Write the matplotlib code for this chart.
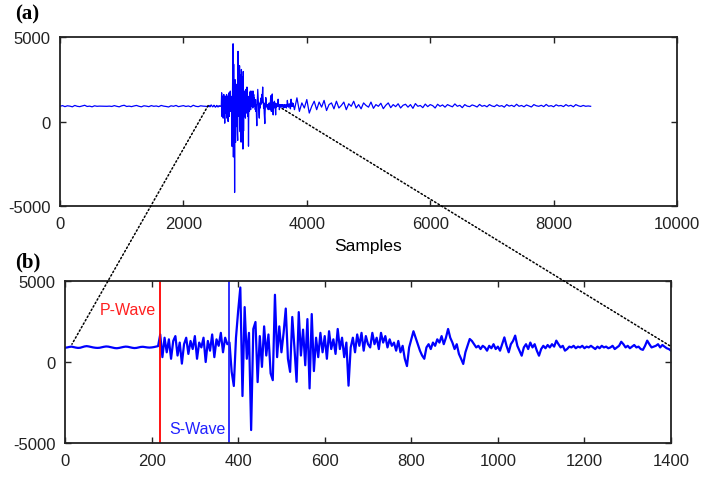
import numpy as np
import matplotlib
matplotlib.use("Agg")
from matplotlib import pyplot as plt
from matplotlib.patches import ConnectionPatch

# zoomed trace (b), one value every B_STEP samples, starting at sample 0
B_STEP = 5
b_quiet = [880, 900, 930, 950, 920, 890, 870, 880, 920, 960,
           980, 960, 930, 900, 880, 870, 880, 910, 940, 960,
           950, 920, 890, 860, 850, 870, 900, 930, 950, 940,
           910, 880, 860, 870, 900, 930, 940, 920, 900, 890,
           900, 920, 950, 980]
b_pwave = [1700, 300, 1500, 600, 1400, 200, 1300, 1600, 400, 1200,
           -100, 1100, 1500, 500, 1300, 800, 1600, 200, 1200, 900,
           1500, 0, 1300, 700, 1700, 300, 1400, 1000, 1800, 600,
           1500, 1100]
b_swave = [1200, -600, -1480, 1500, 3150, 4600, -2100, 3390, 200, 1800,
           -4200, 2040, 2470, -1240, 1600, -300, 2200, 400, 1700, -700,
           -1120, 4150, 300, 2200, 600, 1800, 3300, 200, -610, 2780,
           900, -1220, 3080, 400, 2000, -200, 2650, -1630, 2960, -560,
           1500, 300, 1800, 600, 1600, 200, 1900, 800, 1400, 500,
           2040, 800, 1500, 300, 1200, -1460, 900, 1500, 600, 1700,
           1000, 1800, 700, 1600, 1100]
b_coda = [900, 1800, 1100, 1500, 800, 1800, 1200, 1600, 900, 1400,
          1000, 1200, 700, 1300, 600, 1000, 200, -250, 900, 1400,
          1900, 1500, 1100, 700, 400, 200, 900, 1100, 800, 1200,
          1000, 1400, 1200, 1600, 1100, 1500, 2040, 1500, 1200, 800,
          1100, 500, 200, -120, 600, 1000, 1420, 1300, 1100, 900,
          1000, 800, 1000, 900, 700, 1000, 850, 1100, 800, 950,
          700, 1100, 1520, 1000, 600, 1100, 1300, 1630, 1000, 700,
          390, 900, 1100, 800, 1200, 900, 1100, 700, 390, 800,
          1000, 850, 1050, 900, 1100, 950, 1320, 1100, 900, 1000,
          700, 800, 950, 900, 1000, 850, 950, 900, 1000, 850,
          950, 900, 1000, 900, 800, 950, 850, 1000, 900, 950,
          850, 900, 1000, 800, 900, 1000, 1250, 1100, 900, 1000,
          850, 950, 1050, 900, 950, 800, 750, 1000, 1320, 1100,
          900, 950, 1000, 1100, 900, 1050, 950, 850, 800, 700]

# full trace (a): noise before and after the zoomed window, one value every A_STEP samples
A_STEP = 40
B_OFFSET = 2400
a_before = [900, 940, 880, 930, 910, 870, 950, 900, 880, 920,
            960, 890, 910, 870, 930, 900, 910, 905, 895, 900,
            910, 890, 940, 900, 870, 930, 960, 890, 910, 880,
            920, 950, 900, 870, 930, 910, 880, 940, 900, 920,
            880, 950, 910, 890, 860, 930, 900, 950, 880, 910,
            940, 890, 920, 870, 960, 900, 880, 930, 910, 900]
a_after = [1400, 600, 1100, 800, 1300, 500, 900, 1200, 700, 1150,
           850, 1250, 650, 1000, 1100, 750, 1200, 800, 950, 1150,
           700, 1050, 900, 1200, 800, 1000, 750, 1100, 950, 850,
           1150, 780, 1000, 900, 1080, 760, 960, 1100, 820, 1000,
           880, 1050, 800, 960, 1020, 850, 1000, 780, 1060, 900,
           950, 820, 1030, 880, 1000, 940, 800, 1020, 900, 980,
           850, 1000, 930, 870, 1040, 900, 960, 820, 1000, 910,
           880, 980, 930, 860, 1010, 900, 950, 870, 1000, 920,
           880, 990, 900, 940, 850, 1000, 910, 960, 880, 1020,
           900, 950, 870, 980, 920, 860, 1000, 930, 900, 960,
           880, 1010, 900, 940, 870, 990, 920, 950, 880, 1000,
           910, 960, 870, 1000, 930, 890, 950, 900, 920, 900]

p_wave = 220
s_wave = 378
# zoom connectors: (sample in a, value in a) -> (sample in b, value in b)
zoom_links = [((2400, 940), (16, 1100)), ((3600, 770), (1398, 990))]

a_xticks = [0, 2000, 4000, 6000, 8000, 10000]
b_xticks = [0, 200, 400, 600, 800, 1000, 1200, 1400]
yticks = [-5000, 0, 5000]

plt.rcParams['font.family'] = ['Liberation Sans', 'DejaVu Sans']
plt.rcParams['axes.unicode_minus'] = False

b_vals = np.array(b_quiet + b_pwave + b_swave + b_coda, dtype=float)
b_x = np.arange(len(b_vals)) * B_STEP
a_x = np.concatenate([np.arange(len(a_before)) * A_STEP,
                      b_x + B_OFFSET,
                      b_x[-1] + B_OFFSET + A_STEP + np.arange(len(a_after)) * A_STEP])
a_vals = np.concatenate([a_before, b_vals, a_after])

fig = plt.figure(figsize=(7.05, 4.81), dpi=100)
ax_a = fig.add_axes([0.0851, 0.5696, 0.8752, 0.3514])
ax_b = fig.add_axes([0.0922, 0.0769, 0.8596, 0.3368])

blue = '#0000ff'
ax_a.plot(a_x, a_vals, color=blue, lw=0.9)
ax_b.plot(b_x, b_vals, color=blue, lw=1.6)

ax_b.axvline(p_wave, color='#ff0000', lw=1.3)
ax_b.axvline(s_wave, color='#2020ff', lw=1.3)
ax_b.text(p_wave - 10, 3250, 'P-Wave', color='#ff2020', fontsize=11.5, ha='right', va='center')
ax_b.text(s_wave - 8, -4100, 'S-Wave', color='#2020ff', fontsize=11.5, ha='right', va='center')

for ax, xt, xl in [(ax_a, a_xticks, (0, 10000)), (ax_b, b_xticks, (0, 1400))]:
    ax.set_xlim(*xl)
    ax.set_ylim(-5000, 5000)
    ax.set_xticks(xt)
    ax.set_yticks(yticks)
    ax.tick_params(direction='in', top=True, right=True, length=4, width=1,
                   labelsize=12, colors='#222222', pad=7)
    for sp in ax.spines.values():
        sp.set_linewidth(1.3)
        sp.set_color('#222222')

ax_a.set_xlabel('Samples', fontsize=12.5, labelpad=5)

for (pa, pb) in zoom_links:
    con = ConnectionPatch(xyA=pa, coordsA=ax_a.transData, xyB=pb, coordsB=ax_b.transData,
                          color='black', lw=1.1, linestyle=(0, (1, 1.6)))
    fig.add_artist(con)

fig.text(15 / 705, 1 - 14 / 481, '(a)', fontsize=15, fontweight='bold',
         family='Liberation Serif', va='center', ha='left')
fig.text(15 / 705, 1 - 262 / 481, '(b)', fontsize=15, fontweight='bold',
         family='Liberation Serif', va='center', ha='left')

fig.savefig('out.png', dpi=100)
